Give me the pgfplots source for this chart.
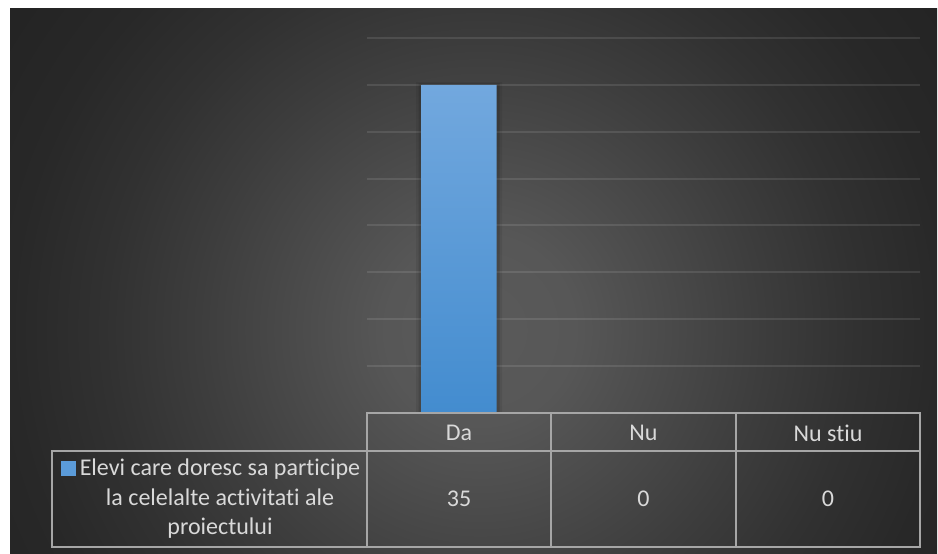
\documentclass[border=0pt]{standalone}
\usepackage{fontspec}
\setmainfont{Carlito}[Ligatures=NoCommon]
\usepackage{pgfplots}
\pgfplotsset{compat=1.18}
\definecolor{txt}{HTML}{D9D9D9}
\definecolor{tbl}{HTML}{A6A6A6}
\definecolor{bartop}{HTML}{72A8DE}
\definecolor{barbot}{HTML}{438CCF}
\definecolor{legblue}{HTML}{5B9BD9}
\definecolor{bga}{HTML}{5A5A5A}
\definecolor{bgb}{HTML}{575757}
\definecolor{bgc}{HTML}{3D3D3D}
\definecolor{bgd}{HTML}{313131}
\definecolor{bge}{HTML}{282828}
\definecolor{bgf}{HTML}{222222}
\pgfdeclareradialshading{bgshade}{\pgfpoint{0bp}{0bp}}{color(0bp)=(bga); color(5bp)=(bgb); color(15bp)=(bgc); color(20bp)=(bgd); color(25bp)=(bge); color(32bp)=(bgf); color(50bp)=(bgf)}
\begin{document}
\begin{tikzpicture}
\fill[white] (0,0) rectangle (938pt,554pt);
\begin{scope}
\clip (7pt,0pt) rectangle (937pt,545pt);
\shade[shading=bgshade] (10pt,-246pt) rectangle (950pt,694pt);
\end{scope}
\begin{axis}[
  at={(367pt,141pt)}, anchor=south west,
  scale only axis, width=553pt, height=375pt,
  xmin=-0.5, xmax=2.5, ymin=0, ymax=40,
  ytick={0,5,...,40}, yticklabel=\empty,
  xtick=\empty,
  ymajorgrids, grid style={white, opacity=0.1, line width=2pt},
  major tick length=0pt,
  axis line style={draw=none},
  clip=false,
]
\addplot[ybar, bar shift=0pt, bar width=86pt, draw=none, fill=black, opacity=0.07]
  coordinates {(0,35.3) (1,0) (2,0)};
\addplot[ybar, bar shift=0pt, bar width=81pt, draw=none, fill=black, opacity=0.12]
  coordinates {(0,35.15) (1,0) (2,0)};
\addplot[ybar, bar shift=0pt, bar width=75pt, draw=none, top color=bartop, bottom color=barbot]
  coordinates {(0,35) (1,0) (2,0)};
\end{axis}
% data table
\draw[tbl, line width=1.5pt] (367pt,141pt) rectangle (920pt,103pt);
\draw[tbl, line width=1.5pt] (52pt,103pt) rectangle (920pt,7pt);
\draw[tbl, line width=1.5pt] (367pt,103pt) -- (367pt,7pt);
\draw[tbl, line width=1.5pt] (551pt,141pt) -- (551pt,7pt);
\draw[tbl, line width=1.5pt] (736pt,141pt) -- (736pt,7pt);
\begin{scope}[every node/.style={text=txt, font=\fontsize{24}{29.5}\selectfont}]
\node at (459pt,121pt) {Da};
\node at (643.5pt,121pt) {Nu};
\node at (828pt,121pt) {Nu stiu};
\node at (459pt,55pt) {35};
\node at (643.5pt,55pt) {0};
\node at (828pt,55pt) {0};
\node[align=center] at (220pt,55pt) {\llap{\textcolor{legblue}{\rule{15pt}{15pt}}\hspace{4pt}}Elevi care doresc sa participe\\ la celelalte activitati ale\\ proiectului};
\end{scope}
\pgfresetboundingbox
\path[use as bounding box] (0,0) rectangle (938pt,554pt);
\end{tikzpicture}
\end{document}
